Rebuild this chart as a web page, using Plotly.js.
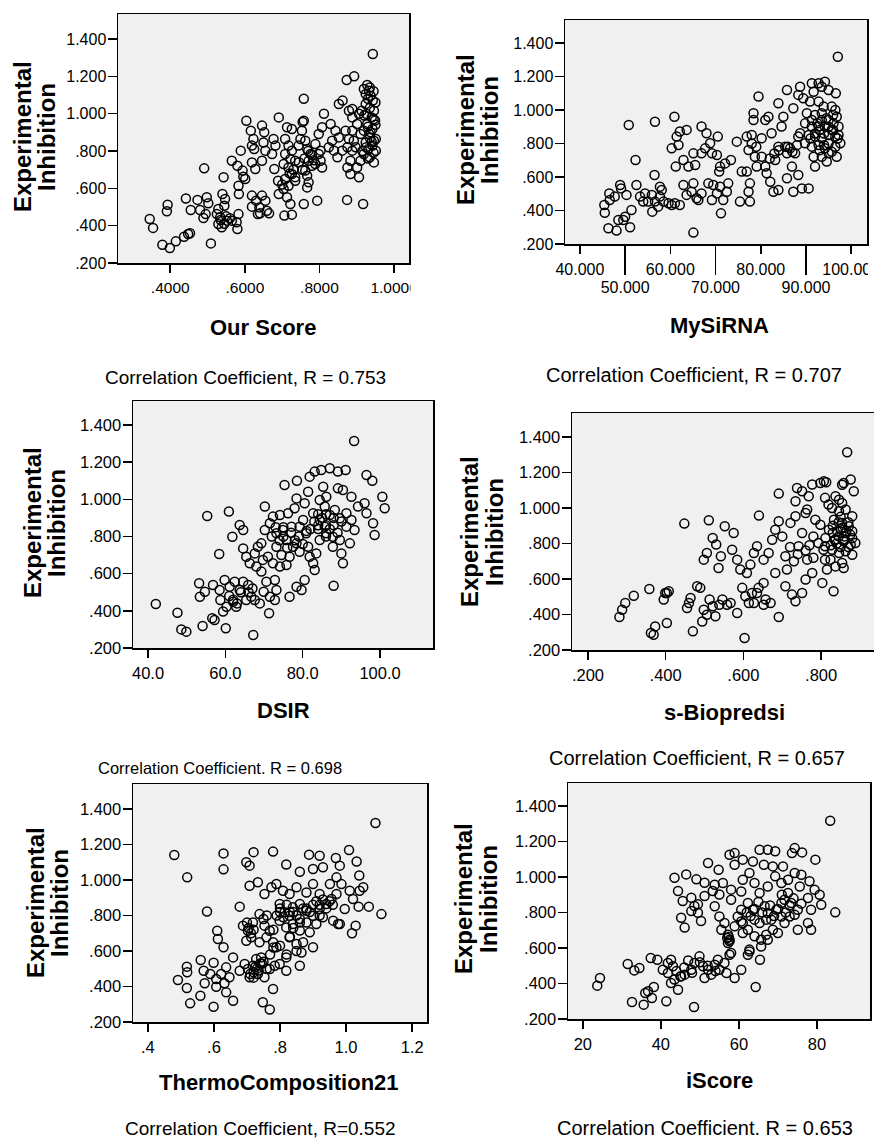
<!DOCTYPE html>
<html>
<head>
<meta charset="utf-8">
<script src="https://cdn.plot.ly/plotly-3.0.1.min.js"></script>
<style>html,body{margin:0;padding:0;background:#fff;overflow:hidden}#chart{width:874px;height:1140px}</style>
</head>
<body>
<div id="chart"></div>
<script>
// ---------- tick labels ----------
const yTickVals = [0.2, 0.4, 0.6, 0.8, 1.0, 1.2, 1.4];
const yTickText = ['.200', '.400', '.600', '.800', '1.000', '1.200', '1.400'];
const x1TickVals = [0.4, 0.6, 0.8, 1.0];
const x1TickText = ['.4000', '.6000', '.8000', '1.0000'];
const x2TickValsA = [40, 60, 80, 100];
const x2TickTextA = ['40.000', '60.000', '80.000', '100.000'];
const x2TickValsB = [50, 70, 90];
const x2TickTextB = ['50.000', '70.000', '90.000'];
const x3TickVals = [40, 60, 80, 100];
const x3TickText = ['40.0', '60.0', '80.0', '100.0'];
const x4TickVals = [0.2, 0.4, 0.6, 0.8];
const x4TickText = ['.200', '.400', '.600', '.800'];
const x5TickVals = [0.4, 0.6, 0.8, 1.0, 1.2];
const x5TickText = ['.4', '.6', '.8', '1.0', '1.2'];
const x6TickVals = [20, 40, 60, 80];
const x6TickText = ['20', '40', '60', '80'];

// ---------- text ----------
const xTitles = ['Our Score', 'MySiRNA', 'DSIR', 's-Biopredsi', 'ThermoComposition21', 'iScore'];
const yTitleLines = ['Experimental', 'Inhibition'];
const captions = [
  'Correlation Coefficient, R = 0.753',
  'Correlation Coefficient, R = 0.707',
  'Correlation Coefficient. R = 0.698',
  'Correlation Coefficient, R = 0.657',
  'Correlation Coefficient, R=0.552',
  'Correlation Coefficient. R = 0.653'
];

// ---------- data ----------
const ourScoreX = [.943,.873,.893,.758,.345,.354,.393,.391,.379,.399,.415,.437,.448,.453,.442,.473,.455,.480,.491,.498,.502,.495,.489,.509,
.525,.534,.529,.538,.545,.540,.547,.529,.552,.543,.565,.578,.580,.583,
.565,.580,.589,.594,.596,.601,.583,.584,.604,
.616,.623,.619,.625,.646,.652,.650,.646,.655,.619,.628,
.619,.630,.639,.635,.646,.655,.641,.659,.665,.619,
.677,.682,.673,.679,.691,
.689,.691,.704,.706,.726,.722,.713,
.713,.726,.708,.717,.708,.726,.735,.717,.726,.708,.735,.717,.704,.722,
.758,.755,.749,.762,.767,.776,.771,.780,.762,.767,.771,.758,.767,.744,.753,
.794,.798,.807,.789,.798,.803,.789,.807,.812,.803,
.830,.843,.834,.852,.839,.848,.825,.861,
.852,.862,.879,.888,.870,.888,.879,.875,.888,.883,.897,.910,.901,.875,.883,.906,
.874,.917,.901,.906,.910,.892,.888,
.928,.933,.937,.943,.924,.946,.940,.949,.928,.942,.933,.951,.924,.942,.931,.951,.919,.935,.946,.926,.913,.924,.919,.937,.919,.946,
.935,.945,.930,.950,.935,.920,.945,.930,.950,.935,.925,.945,.930,.915,.940,
.720,.730,.755,.745,.700,.735,.760,.780,.785,.770,.535,.550,.545,.560];
const ourScoreY = [1.32,1.18,1.20,1.08,.436,.388,.512,.477,.298,.280,.316,.341,.355,.359,.546,.538,.484,.484,.707,.552,.520,.462,.441,.305,
.462,.445,.409,.391,.507,.570,.543,.489,.427,.659,.427,.418,.382,.462,
.748,.721,.802,.695,.662,.650,.614,.570,.962,
.909,.864,.829,.811,.936,.900,.846,.748,.802,.739,.704,
.561,.534,.498,.462,.561,.534,.466,.480,.466,.502,
.864,.829,.784,.704,.980,
.641,.570,.596,.454,.459,.516,.552,
.927,.918,.864,.829,.784,.802,.748,.712,.677,.650,.641,.614,.730,.757,
.962,.955,.864,.855,.811,.784,.748,.721,.695,.668,.632,.516,.605,.829,.909,
.534,.891,.927,.837,.784,.748,.730,.712,1.00,.802,
.945,.909,.855,.873,.802,.766,.820,.802,
1.052,1.070,1.016,1.025,.909,.909,.864,.820,.802,.748,.820,.748,.712,.712,.677,.659,
.538,.516,.945,1.000,.891,.855,.980,
1.154,1.123,1.096,1.070,1.052,1.016,.980,.963,.945,.918,.891,.864,.846,.829,.811,.802,.784,.766,.739,.998,1.016,1.105,1.132,.900,.909,.855,
1.140,1.120,1.080,1.060,1.030,.990,.970,.930,.940,.870,.820,.790,.760,.800,.850,
.680,.700,.700,.740,.620,.660,.760,.780,.750,.800,.430,.450,.410,.440];

const mySiRNAX = [97.05,65.1,
45.4,45.5,46.5,46.6,48.9,49.1,47.7,50.3,50.0,49.6,48.5,46.3,48.1,51.1,51.4,52.5,52.3,50.8,56.6,60.9,56.5,
53.3,54.4,55.1,56.0,56.6,57.7,58.1,57.3,58.5,59.6,60.3,61.0,62.1,54.0,55.9,57.7,
60.3,61.4,62.1,63.6,61.8,61.2,62.9,64.0,65.1,65.5,66.9,68.0,67.7,68.8,69.2,70.5,70.3,70.8,71.0,72.1,73.4,66.9,
62.9,63.6,65.1,65.8,66.2,66.9,68.4,69.5,69.2,70.3,71.0,71.7,72.8,72.5,71.2,64.7,
74.7,75.8,76.9,75.4,77.6,77.6,77.3,76.9,77.3,78.0,78.4,78.4,79.5,78.7,79.1,80.2,80.2,81.0,81.3,81.7,81.0,82.4,82.1,82.8,83.9,83.2,83.9,85.0,84.6,85.4,85.8,86.5,86.9,85.8,87.6,88.3,87.2,89.1,90.6,88.3,87.2,85.8,83.9,
88.7,88.3,89.4,91.3,92.8,94.2,93.5,91.7,95.0,96.6,90.9,92.8,93.9,95.7,96.5,90.2,92.0,93.5,95.0,96.8,89.8,91.3,92.8,94.2,95.7,97.2,88.7,90.6,92.0,93.5,95.0,96.5,97.6,89.8,91.3,92.8,94.2,95.7,91.7,93.5,95.0,96.8,92.0,94.6,97.2,96.1,91.3,
93.0,94.0,95.0,96.0,92.0,94.5,96.0,93.5,91.0,95.0,97.0,94.0,96.5,93.0,92.5,
78.0,79.0,83.0,84.0,86.0,87.0,88.0,82.0];
const mySiRNAY = [1.318,.268,
.433,.387,.502,.463,.552,.532,.483,.493,.363,.343,.343,.294,.280,.300,.403,.552,.701,.910,.930,.960,.612,
.483,.502,.453,.393,.453,.542,.522,.423,.453,.443,.433,.443,.433,.453,.493,.483,
.771,.841,.871,.881,.791,.662,.701,.662,.741,.672,.901,.861,.771,.801,.741,.841,.731,.632,.662,.681,.701,.741,
.552,.493,.562,.473,.463,.502,.562,.552,.463,.502,.542,.463,.562,.512,.383,.512,
.811,.632,.632,.453,.453,.562,.512,.841,.761,.851,.980,.940,1.080,.721,.662,.721,.831,.662,.622,.960,.940,.861,.572,.512,.522,.701,.781,.960,.901,.781,.741,.771,.662,.592,.741,.612,.512,.532,.532,.841,1.010,1.119,1.040,
1.139,1.090,1.070,1.159,1.159,1.169,1.139,1.109,1.119,1.100,1.050,1.050,1.020,1.020,1.000,.980,.970,.940,.940,.960,.920,.901,.901,.901,.881,.901,.861,.851,.841,.831,.851,.841,.801,.801,.781,.791,.771,.751,.721,.721,.741,.721,.662,.692,.851,.920,.940,
.880,.860,.900,.880,.860,.950,.970,.980,.830,.800,.830,.790,.780,.760,.920,
.800,.780,.740,.760,.780,.750,.790,.710];

const dsirX = [93.3,67.2,
42.0,47.6,48.6,49.9,54.1,56.6,57.2,60.1,58.4,55.3,60.9,61.8,63.7,64.6,71.3,53.2,53.4,54.7,56.8,58.5,59.8,61.1,58.7,60.3,62.0,62.8,59.4,62.4,64.6,63.7,65.9,66.7,65.4,67.6,68.9,69.9,71.5,72.8,73.2,70.6,72.8,76.6,78.4,79.7,80.5,88.0,
64.6,65.4,67.6,68.4,69.3,66.3,68.0,69.3,69.7,71.0,70.2,71.5,72.3,74.1,70.2,73.2,74.9,75.8,73.2,74.5,72.3,74.1,75.8,76.6,77.5,78.4,79.2,77.1,79.2,80.1,80.9,81.4,81.8,82.7,83.1,83.5,76.2,77.9,78.4,80.5,81.4,78.5,75.3,
81.8,83.1,84.8,87.0,89.1,91.1,85.3,86.1,84.4,89.1,90.4,92.6,94.3,96.0,96.5,98.0,100.6,101.2,82.7,84.4,85.7,87.0,88.3,89.6,91.3,92.6,86.1,87.8,89.6,91.3,93.4,84.4,87.8,90.0,90.4,92.2,98.2,98.6,96.5,85.7,
73,75,78,82,84,86,88,90,86,84,
75,77,79,81,83,85,87,89,86,88,84,80,76,72,74,
61,62,63,64,66,67];
const dsirY = [1.314,.270,
.437,.390,.300,.288,.318,.360,.351,.306,.706,.910,.934,.799,.862,.835,.387,.548,.476,.503,.539,.512,.566,.530,.458,.422,.449,.422,.396,.557,.557,.512,.539,.476,.458,.458,.440,.503,.476,.458,.512,.557,.566,.476,.530,.512,.566,.535,
.736,.691,.709,.745,.763,.656,.638,.611,.674,.691,.835,.871,.907,.916,.961,.817,.835,.781,.745,.700,.656,.638,.647,.691,.745,.763,.718,.853,.853,.889,.817,.745,.691,.656,.620,.709,.925,.952,1.005,.979,1.041,1.100,1.077,
1.122,1.149,1.158,1.167,1.149,1.158,1.068,1.014,.996,1.059,1.050,1.014,.961,.979,1.131,1.100,1.014,.952,.925,.889,.853,.916,.943,.898,.925,.889,.817,.799,.781,.853,.835,.781,.745,.709,.656,.763,.871,.808,.925,.961,
.85,.80,.78,.84,.86,.80,.86,.88,.92,.92,
.85,.82,.80,.83,.88,.90,.84,.82,.86,.90,.84,.76,.74,.80,.78,
.48,.46,.44,.50,.50,.52];

const sBiopredsiX = [.867,.603,
.281,.288,.296,.318,.358,.362,.369,.373,.403,.395,.403,.408,.399,.448,.455,.464,.460,.481,.489,.470,.511,.521,.530,.498,.506,.536,.542,.552,
.513,.521,.538,.546,.498,.506,.528,.558,.567,.584,.494,
.597,.605,.622,.635,.639,.652,.657,.670,.627,.652,.691,.614,
.575,.571,.584,.592,.609,.618,.627,.640,.635,
.652,.665,.674,.682,.691,.700,.691,.708,.712,.682,
.708,.725,.734,.751,.760,.777,.764,.742,.751,.721,.734,.760,
.734,.738,.751,.768,.777,.764,.785,.798,.780,.793,.806,.810,.815,.803,.832,.810,.810,.819,
.798,.807,.813,.854,.858,.876,.884,.837,.846,.854,.828,.846,.863,.880,.833,.854,.871,.820,.841,.863,.880,.811,.837,.858,.876,.888,.828,.846,.863,.880,.824,.854,.837,.858,
.85,.86,.84,.87,.83,.85,
.830,.845,.855,.865,.875,.860,.850,.835,.870,.880,.825,.845,
.720,.740,.760,.780,.770,.730];
const sBiopredsiY = [1.314,.268,
.386,.427,.465,.506,.544,.296,.286,.333,.352,.484,.521,.531,.521,.912,.437,.493,.465,.559,.550,.305,.931,.831,.794,.709,.746,.662,.728,.897,
.484,.446,.455,.484,.427,.399,.390,.455,.465,.408,.361,
.550,.503,.521,.521,.550,.578,.484,.465,.465,.455,.386,.465,
.859,.765,.709,.653,.634,.681,.746,.957,.784,
.709,.746,.821,.878,.925,.840,1.081,.728,.653,.634,
.559,.512,.474,.521,.597,.634,.709,.784,.859,.916,.953,.972,
1.038,1.113,1.094,1.066,1.132,.991,.934,.906,.840,.803,.765,.709,.653,.578,.531,.784,1.057,1.019,
1.141,1.150,1.145,1.131,1.141,1.160,1.094,1.066,1.047,1.028,1.000,.981,.991,.953,.934,.916,.897,.878,.869,.859,.869,.831,.822,.812,.793,.803,.765,.746,.756,.737,.709,.690,.671,.662,
.88,.84,.80,.92,.86,.95,
.900,.920,.890,.870,.850,.820,.780,.820,.780,.830,.790,.840,
.780,.740,.760,.720,.790,.700];

const thermoX = [1.089,
.480,.519,.629,.629,.579,.491,.518,.519,.560,.569,.572,.518,.528,.559,.599,.589,.599,.610,.612,.629,.607,.637,.658,.632,.647,.622,.637,.658,.607,
.678,.693,.703,.718,.728,.743,.708,.733,.753,.769,.784,.799,.819,.748,.779,.769,
.688,.703,.713,.698,.718,.738,.753,.769,.759,.779,.789,.738,.678,.708,.733,.753,.774,.789,
.698,.708,.720,.779,.819,.860,.888,.920,.900,.930,.969,.981,1.009,1.032,1.040,
.799,.814,.829,.839,.860,.880,.900,.920,.940,.956,.971,.799,.819,.839,.860,.829,.850,.870,.900,.890,.910,.930,.961,.981,.996,.809,.829,.850,.880,.900,.920,.951,.971,.986,1.011,1.021,1.041,1.052,1.069,1.038,1.107,1.018,1.029,.976,.865,.860,.819,
.705,.712,.700,.72,.74,.75,.73,.72,.80,.81,.79,.83,.85,.88,.90,.92,.94,.95,.96,.86,.84,.78,.80,.78,.77,.82,.85,.83,
.80,.82,.84,.87,.89,.91,.93,.92,.86,.88,.76,.75,
.71,.725,.735,.76,.745,.72];
const thermoY = [1.321,
1.141,1.015,1.150,1.060,.823,.437,.512,.480,.549,.489,.418,.392,.305,.348,.286,.470,.534,.714,.668,.621,.399,.367,.320,.418,.452,.470,.508,.564,.442,
.489,.527,.499,.517,.555,.564,.452,.470,.452,.499,.517,.527,.489,.311,.386,.270,
.743,.714,.677,.658,.761,.808,.743,.714,.677,.649,.621,.649,.850,.968,.987,.921,.959,.978,
1.100,1.081,1.157,1.160,1.087,1.047,1.143,1.137,1.062,1.072,1.124,1.081,1.169,1.104,1.025,
.865,.818,.799,.846,.865,.827,.799,.837,.865,.893,.921,.771,.733,.752,.715,.677,.639,.649,.621,.705,.752,.790,.771,.752,.837,.940,.921,.959,.930,.977,.921,.977,1.015,.977,.940,.893,.940,.959,.850,.850,.808,.700,.743,.752,.592,.517,.564,
.73,.70,.76,.72,.53,.54,.50,.48,.82,.79,.80,.82,.80,.84,.86,.86,.84,.88,.86,.78,.73,.72,.63,.62,.58,.58,.60,.68,
.84,.86,.82,.84,.82,.88,.89,.80,.76,.76,.80,.78,
.47,.51,.49,.50,.53,.45];

const iScoreX = [83.4,84.7,
23.7,24.4,31.5,33.2,34.5,37.4,39.1,32.6,35.6,36.0,36.7,38.2,37.7,41.4,48.5,
40.5,41.8,42.6,43.1,43.5,44.4,45.2,42.6,41.8,46.1,47.8,48.6,49.9,50.8,52.1,51.2,52.9,53.8,55.0,56.3,54.6,56.8,58.9,60.6,57.6,62.3,62.7,64.3,65.4,
43.5,46.5,49.1,51.2,44.4,45.6,47.8,49.5,51.2,53.3,55.0,47.8,49.5,50.3,48.6,45.2,46.1,
52.1,54.8,53.8,55.9,57.6,58.9,58.9,61.0,63.6,65.3,67.4,69.3,66.4,68.7,71.3,73.6,74.3,76.2,79.6,61.0,58.0,60.6,62.7,64.0,65.3,67.4,69.3,70.9,72.6,74.3,76.0,78.1,79.4,80.7,81.1,77.7,75.6,72.6,73.4,75.1,70.9,
53.8,55.0,56.3,55.5,57.2,57.6,57.2,58.0,58.9,59.7,60.6,62.3,63.6,64.0,65.3,66.6,67.4,68.3,69.6,70.9,68.7,67.0,65.7,64.0,62.3,61.0,62.7,65.7,67.4,70.0,71.7,73.0,74.3,75.1,77.7,78.5,60.6,58.0,71.7,78.5,57.0,57.6,57.4,
62,64,66,68,70,72,73,74,69,67,65,63,76,71,61,
44,46,48,50,52,54,47,45];
const iScoreY = [1.317,.801,
.388,.431,.510,.474,.487,.544,.534,.296,.281,.347,.356,.380,.318,.300,.268,
.478,.459,.534,.497,.422,.365,.441,.403,.516,.450,.478,.516,.553,.497,.478,.431,.450,.506,.478,.516,.534,.459,.431,.478,.562,.562,.581,.380,.534,
.996,1.015,.987,.968,.921,.865,.884,.846,.893,.921,.902,.808,.799,.752,.837,.771,.715,
1.079,1.041,.957,.966,1.126,1.135,1.069,1.098,1.088,1.154,1.154,1.145,1.069,1.060,1.060,1.135,1.163,1.139,1.098,.985,.929,.919,1.023,.966,.910,.947,1.004,.966,.985,1.023,1.013,.976,.929,.900,.844,.882,.947,.910,.854,.816,.854,
.835,.778,.741,.703,.675,.647,.628,.572,.722,.778,.816,.854,.816,.760,.741,.835,.797,.760,.816,.778,.703,.675,.647,.666,.703,.685,.591,.609,.647,.685,.741,.778,.787,.703,.741,.703,.750,.872,.872,.816,.656,.638,.662,
.80,.82,.80,.84,.82,.80,.84,.88,.78,.76,.86,.78,.85,.90,.74,
.47,.49,.46,.52,.50,.47,.53,.44];

// ---------- layout helpers ----------
const W = 874, H = 1140;
const FONT = '"Liberation Sans", Arial, sans-serif';
const fx = px => px / W;
const fy = py => 1 - py / H;

function xAxis(l, r, range, vals, text, anchor, size) {
  return {
    domain: [fx(l), Math.min(1, fx(r))], range: range, anchor: anchor,
    tickmode: 'array', tickvals: vals, ticktext: text,
    ticks: 'outside', ticklen: 8, tickwidth: 1.5, tickcolor: '#000',
    showline: true, linecolor: '#000', linewidth: 1.5, mirror: true,
    showgrid: false, zeroline: false, ticklabelstandoff: 2,
    tickfont: {family: FONT, size: size, color: '#000'}, fixedrange: true
  };
}
function yAxis(top, bottom, range, anchor, size, mirror) {
  return {
    domain: [fy(bottom), fy(top)], range: range, anchor: anchor,
    tickmode: 'array', tickvals: yTickVals, ticktext: yTickText,
    ticks: 'outside', ticklen: 9, tickwidth: 1.5, tickcolor: '#000',
    showline: true, linecolor: '#000', linewidth: 1.5, mirror: mirror,
    showgrid: false, zeroline: false, ticklabelstandoff: -2,
    tickfont: {family: FONT, size: size, color: '#000'}, fixedrange: true
  };
}
function points(x, y, xa, ya) {
  return {
    type: 'scatter', mode: 'markers', x: x, y: y, xaxis: xa, yaxis: ya,
    marker: {symbol: 'circle-open', size: 9, color: '#000', line: {width: 1.5, color: '#000'}},
    hoverinfo: 'skip', showlegend: false
  };
}

const traces = [
  points(ourScoreX, ourScoreY, 'x', 'y'),
  points(mySiRNAX, mySiRNAY, 'x2', 'y2'),
  points(dsirX, dsirY, 'x3', 'y3'),
  points(sBiopredsiX, sBiopredsiY, 'x4', 'y4'),
  points(thermoX, thermoY, 'x5', 'y5'),
  points(iScoreX, iScoreY, 'x6', 'y6'),
  {type: 'scatter', mode: 'markers', x: [], y: [], xaxis: 'x7', yaxis: 'y2', showlegend: false, hoverinfo: 'skip'}
];

const layout = {
  width: W, height: H, margin: {l: 0, r: 0, t: 0, b: 0},
  paper_bgcolor: '#ffffff', plot_bgcolor: '#f0f0f0', showlegend: false,
  font: {family: FONT, color: '#000'},
  xaxis:  xAxis(118, 409, [0.26, 1.04], x1TickVals, x1TickText, 'y', 15.5),
  yaxis:  yAxis(14, 263, [0.2, 1.534], 'x', 16, true),
  xaxis2: Object.assign(xAxis(565, 867, [36.7, 103.5], x2TickValsA, x2TickTextA, 'y2', 16), {ticklabeloverflow: 'allow'}),
  yaxis2: yAxis(20, 244, [0.2, 1.537], 'x2', 16, true),
  xaxis3: xAxis(133, 433, [36.1, 113.7], x3TickVals, x3TickText, 'y3', 16.5),
  yaxis3: yAxis(401, 648, [0.2, 1.529], 'x3', 16.5, true),
  xaxis4: xAxis(572, 874, [0.159, 0.936], x4TickVals, x4TickText, 'y4', 16.5),
  yaxis4: yAxis(413, 650, [0.2, 1.535], 'x4', 16.5, false),
  xaxis5: xAxis(133, 427, [0.355, 1.245], x5TickVals, x5TickText, 'y5', 16.5),
  yaxis5: yAxis(784, 1022, [0.2, 1.541], 'x5', 16.5, true),
  xaxis6: xAxis(568, 870, [16.2, 93.6], x6TickVals, x6TickText, 'y6', 16.5),
  yaxis6: yAxis(783, 1019, [0.2, 1.53], 'x6', 16.5, true),
  shapes: [
    {type: 'rect', xref: 'paper', yref: 'paper', x0: fx(410.5), x1: fx(436), y0: fy(300), y1: fy(270),
     fillcolor: '#ffffff', line: {width: 0}, layer: 'above'},
    {type: 'rect', xref: 'paper', yref: 'paper', x0: fx(868), x1: 1, y0: fy(280), y1: fy(255),
     fillcolor: '#ffffff', line: {width: 0}, layer: 'above'}
  ],
  annotations: []
};
// staggered second row of MySiRNA tick labels
layout.xaxis7 = Object.assign(xAxis(565, 867, [36.7, 103.5], x2TickValsB, x2TickTextB, 'y2', 16),
  {overlaying: 'x2', ticklen: 30, showline: false, mirror: false, ticklabelstandoff: -1});

// text placement (pixel centres)
const xTitlePos = [[263, 327], [719, 325], [283, 710], [724, 712], [279, 1082], [719, 1080]];
const yTitlePos = [[22, 46, 137], [465, 489, 130], [32, 56, 523], [469, 494, 532], [35, 59, 903], [463, 488, 899]];
const captionPos = [[245, 378, 19], [694, 375, 20], [220, 768, 16.5], [697, 758, 20], [260, 1128, 19], [705, 1128, 20]];

function ann(text, px, py, size, bold, angle) {
  return {text: bold ? '<b>' + text + '</b>' : text, xref: 'paper', yref: 'paper',
    x: fx(px), y: fy(py), xanchor: 'center', yanchor: 'middle', showarrow: false,
    textangle: angle || 0, font: {family: FONT, size: size, color: '#000'}};
}
for (let i = 0; i < 6; i++) {
  layout.annotations.push(ann(xTitles[i], xTitlePos[i][0], xTitlePos[i][1], 22, true));
  layout.annotations.push(ann(yTitleLines[0], yTitlePos[i][0], yTitlePos[i][2], 24, true, -90));
  layout.annotations.push(ann(yTitleLines[1], yTitlePos[i][1], yTitlePos[i][2], 24, true, -90));
  layout.annotations.push(ann(captions[i], captionPos[i][0], captionPos[i][1], captionPos[i][2], false));
}

Plotly.newPlot('chart', traces, layout, {staticPlot: true, displayModeBar: false});
</script>
</body>
</html>
